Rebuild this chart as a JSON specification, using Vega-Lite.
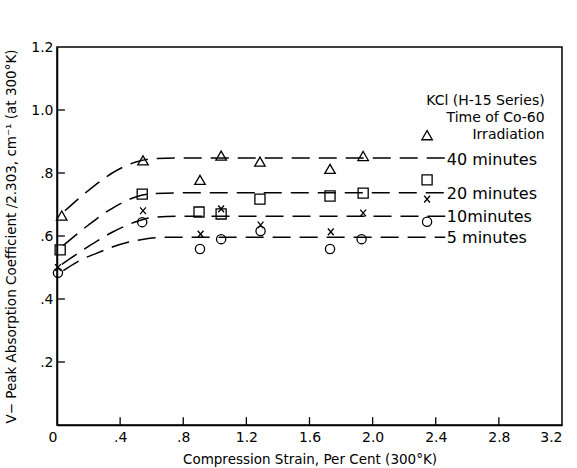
{
  "$schema": "https://vega.github.io/schema/vega-lite/v6.json",
  "width": 505,
  "height": 378,
  "autosize": {"type": "none"},
  "padding": {"left": 57, "top": 47, "right": 15, "bottom": 43},
  "background": "white",
  "config": {
    "font": "DejaVu Sans",
    "view": {"stroke": "black", "strokeWidth": 1.5},
    "axis": {
      "grid": false,
      "ticks": false,
      "domainColor": "black",
      "domainWidth": 1.5,
      "labelColor": "black",
      "titleColor": "black",
      "labelFont": "DejaVu Sans",
      "titleFont": "DejaVu Sans",
      "labelFontSize": 14,
      "titleFontSize": 13.5,
      "titleFontWeight": "normal"
    }
  },
  "datasets": {
    "pts": [
      {"series": "40 minutes", "strain": 0.03, "coef": 0.665},
      {"series": "40 minutes", "strain": 0.545, "coef": 0.84},
      {"series": "40 minutes", "strain": 0.906, "coef": 0.778},
      {"series": "40 minutes", "strain": 1.04, "coef": 0.855},
      {"series": "40 minutes", "strain": 1.286, "coef": 0.836},
      {"series": "40 minutes", "strain": 1.73, "coef": 0.813},
      {"series": "40 minutes", "strain": 1.94, "coef": 0.854},
      {"series": "20 minutes", "strain": 0.02, "coef": 0.556},
      {"series": "20 minutes", "strain": 0.54, "coef": 0.733},
      {"series": "20 minutes", "strain": 0.9, "coef": 0.676},
      {"series": "20 minutes", "strain": 1.04, "coef": 0.67},
      {"series": "20 minutes", "strain": 1.286, "coef": 0.717},
      {"series": "20 minutes", "strain": 1.73, "coef": 0.727},
      {"series": "20 minutes", "strain": 1.94, "coef": 0.736},
      {"series": "20 minutes", "strain": 2.345, "coef": 0.778},
      {"series": "10 minutes", "strain": 0.006, "coef": 0.5},
      {"series": "10 minutes", "strain": 0.545, "coef": 0.68},
      {"series": "10 minutes", "strain": 0.91, "coef": 0.606},
      {"series": "10 minutes", "strain": 1.04, "coef": 0.686},
      {"series": "10 minutes", "strain": 1.29, "coef": 0.635},
      {"series": "10 minutes", "strain": 1.735, "coef": 0.613},
      {"series": "10 minutes", "strain": 1.94, "coef": 0.673},
      {"series": "10 minutes", "strain": 2.345, "coef": 0.717},
      {"series": "5 minutes", "strain": 0.006, "coef": 0.483},
      {"series": "5 minutes", "strain": 0.54, "coef": 0.644},
      {"series": "5 minutes", "strain": 0.906, "coef": 0.559},
      {"series": "5 minutes", "strain": 1.04, "coef": 0.59},
      {"series": "5 minutes", "strain": 1.29, "coef": 0.616},
      {"series": "5 minutes", "strain": 1.73, "coef": 0.559},
      {"series": "5 minutes", "strain": 1.93, "coef": 0.59},
      {"series": "5 minutes", "strain": 2.345, "coef": 0.645},
      {"series": "40 minutes", "strain": 2.345, "coef": 0.92, "key": "legend"}
    ],
    "curves": [
      {"series": "40 minutes", "strain": 0.05, "coef": 0.68},
      {"series": "40 minutes", "strain": 0.2, "coef": 0.745},
      {"series": "40 minutes", "strain": 0.35, "coef": 0.8},
      {"series": "40 minutes", "strain": 0.5, "coef": 0.835},
      {"series": "40 minutes", "strain": 0.62, "coef": 0.846},
      {"series": "40 minutes", "strain": 0.8, "coef": 0.848},
      {"series": "40 minutes", "strain": 2.46, "coef": 0.848},
      {"series": "20 minutes", "strain": 0.04, "coef": 0.57},
      {"series": "20 minutes", "strain": 0.2, "coef": 0.635},
      {"series": "20 minutes", "strain": 0.35, "coef": 0.688},
      {"series": "20 minutes", "strain": 0.5, "coef": 0.724},
      {"series": "20 minutes", "strain": 0.62, "coef": 0.735},
      {"series": "20 minutes", "strain": 0.8, "coef": 0.737},
      {"series": "20 minutes", "strain": 2.46, "coef": 0.737},
      {"series": "10 minutes", "strain": 0.03, "coef": 0.51},
      {"series": "10 minutes", "strain": 0.2, "coef": 0.567},
      {"series": "10 minutes", "strain": 0.35, "coef": 0.612},
      {"series": "10 minutes", "strain": 0.5, "coef": 0.645},
      {"series": "10 minutes", "strain": 0.62, "coef": 0.66},
      {"series": "10 minutes", "strain": 0.8, "coef": 0.663},
      {"series": "10 minutes", "strain": 2.46, "coef": 0.663},
      {"series": "5 minutes", "strain": 0.04, "coef": 0.49},
      {"series": "5 minutes", "strain": 0.15, "coef": 0.524},
      {"series": "5 minutes", "strain": 0.25, "coef": 0.545},
      {"series": "5 minutes", "strain": 0.35, "coef": 0.565},
      {"series": "5 minutes", "strain": 0.45, "coef": 0.58},
      {"series": "5 minutes", "strain": 0.55, "coef": 0.59},
      {"series": "5 minutes", "strain": 0.7, "coef": 0.596},
      {"series": "5 minutes", "strain": 2.46, "coef": 0.596}
    ],
    "lineLabels": [
      {"text": "40 minutes", "strain": 2.47, "coef": 0.842},
      {"text": "20 minutes", "strain": 2.47, "coef": 0.734},
      {"text": "10minutes", "strain": 2.47, "coef": 0.661},
      {"text": "5 minutes", "strain": 2.47, "coef": 0.595}
    ],
    "legendText": [
      {"text": "KCl (H-15 Series)", "strain": 3.09, "coef": 1.03},
      {"text": "Time of Co-60", "strain": 3.09, "coef": 0.975},
      {"text": "Irradiation", "strain": 3.09, "coef": 0.92}
    ],
    "xticks": [{"v": 0.4}, {"v": 0.8}, {"v": 1.2}, {"v": 1.6}, {"v": 2.0}, {"v": 2.4}, {"v": 2.8}],
    "yticks": [{"v": 0.2}, {"v": 0.4}, {"v": 0.6}, {"v": 0.8}, {"v": 1.0}]
  },
  "layer": [
    {
      "data": {"name": "curves"},
      "mark": {"type": "line", "color": "black", "strokeWidth": 1.5, "strokeDash": [18, 9], "interpolate": "monotone"},
      "encoding": {
        "x": {
          "field": "strain", "type": "quantitative",
          "scale": {"domain": [0, 3.2], "nice": false, "zero": false},
          "axis": {
            "values": [0, 0.4, 0.8, 1.2, 1.6, 2.0, 2.4, 2.8, 3.2],
            "labelExpr": "datum.value == 0 ? '0' : (datum.value < 1 ? replace(format(datum.value, '.1f'), '0.', '.') : format(datum.value, '.1f'))",
            "labelOffset": {"condition": {"test": "datum.value == 0", "value": -9}, "value": 0},
            "labelPadding": 5,
            "title": "Compression Strain, Per Cent (300°K)",
            "titlePadding": 8
          }
        },
        "y": {
          "field": "coef", "type": "quantitative",
          "scale": {"domain": [0, 1.2], "nice": false, "zero": false},
          "axis": {
            "values": [0, 0.2, 0.4, 0.6, 0.8, 1.0, 1.2],
            "labelExpr": "datum.value == 0 ? '' : (datum.value < 1 ? replace(format(datum.value, '.1f'), '0.', '.') : format(datum.value, '.1f'))",
            "labelPadding": 4,
            "title": "V\u2212 Peak Absorption Coefficient /2.303, cm\u207b\u00b9 (at 300°K)",
            "titlePadding": 12
          }
        },
        "detail": {"field": "series"}
      }
    },
    {
      "data": {"name": "xticks"},
      "mark": {"type": "rule", "color": "black", "strokeWidth": 1.3},
      "encoding": {
        "x": {"field": "v", "type": "quantitative"},
        "y": {"datum": 0},
        "y2": {"datum": 0.025}
      }
    },
    {
      "data": {"name": "yticks"},
      "mark": {"type": "rule", "color": "black", "strokeWidth": 1.3},
      "encoding": {
        "y": {"field": "v", "type": "quantitative"},
        "x": {"datum": 0},
        "x2": {"datum": 0.05}
      }
    },
    {
      "data": {"name": "pts"},
      "mark": {"type": "point", "filled": false, "color": "black", "strokeWidth": 1.3, "opacity": 1},
      "encoding": {
        "x": {"field": "strain", "type": "quantitative"},
        "y": {"field": "coef", "type": "quantitative"},
        "shape": {
          "field": "series", "type": "nominal", "legend": null,
          "scale": {
            "domain": ["40 minutes", "20 minutes", "10 minutes", "5 minutes"],
            "range": ["triangle-up", "square", "M-0.6,-0.7L0.6,0.7M-0.6,0.7L0.6,-0.7", "circle"]
          }
        },
        "size": {
          "field": "series", "type": "nominal", "legend": null,
          "scale": {
            "domain": ["40 minutes", "20 minutes", "10 minutes", "5 minutes"],
            "range": [110, 85, 30, 95]
          }
        }
      }
    },
    {
      "data": {"name": "lineLabels"},
      "mark": {"type": "text", "fontSize": 16, "color": "black", "baseline": "middle", "align": "left", "font": "DejaVu Sans"},
      "encoding": {
        "x": {"field": "strain", "type": "quantitative"},
        "y": {"field": "coef", "type": "quantitative"},
        "text": {"field": "text"}
      }
    },
    {
      "data": {"name": "legendText"},
      "mark": {"type": "text", "fontSize": 14, "color": "black", "baseline": "middle", "align": "right", "font": "DejaVu Sans"},
      "encoding": {
        "x": {"field": "strain", "type": "quantitative"},
        "y": {"field": "coef", "type": "quantitative"},
        "text": {"field": "text"}
      }
    }
  ]
}
